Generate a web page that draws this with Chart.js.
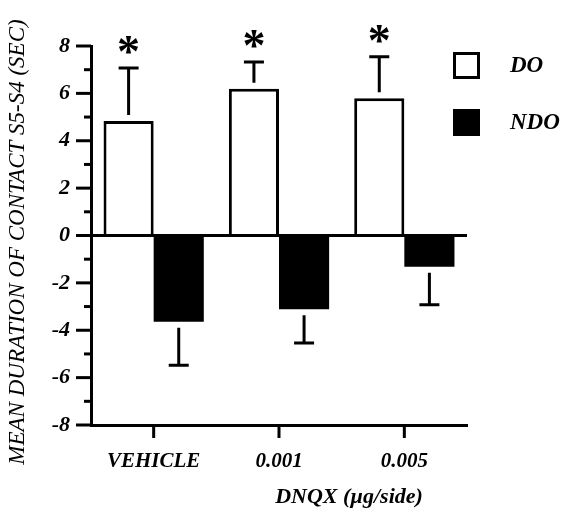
<!DOCTYPE html>
<html>
<head>
<meta charset="utf-8">
<script src="https://cdn.jsdelivr.net/npm/chart.js@4/dist/chart.umd.min.js"></script>
<style>
  html, body { margin: 0; padding: 0; background: #fff; }
  #wrap { width: 570px; height: 514px; position: relative; }
</style>
</head>
<body>
<div id="wrap"><canvas id="c" width="570" height="514"></canvas></div>
<script>
const categories = ['VEHICLE', '0.001', '0.005'];
const seriesNames = ['DO', 'NDO'];
const doValues = [4.83, 6.20, 5.79];
const doErrors = [2.24, 1.12, 1.76];
const ndoValues = [-3.64, -3.11, -1.32];
const ndoErrors = [1.84, 1.43, 1.60];
const significant = ['*', '*', '*'];
const yTicks = [-8, -6, -4, -2, 0, 2, 4, 6, 8];
const yTitle = 'MEAN DURATION OF CONTACT S5-S4 (SEC)';
const xTitle = 'DNQX (\u00b5g/side)';

const SERIF = '"Liberation Serif", "DejaVu Serif", serif';

const errorBarPlugin = {
  id: 'errorBars',
  afterDatasetsDraw(chart) {
    const ctx = chart.ctx;
    const y = chart.scales.y;
    ctx.save();
    ctx.strokeStyle = '#000';
    ctx.lineWidth = 3;
    chart.data.datasets.forEach((ds, di) => {
      const meta = chart.getDatasetMeta(di);
      meta.data.forEach((el, i) => {
        const v = ds.data[i];
        const e = ds.errors[i];
        const dir = v >= 0 ? 1 : -1;
        const yEnd = y.getPixelForValue(v + dir * e);
        const yStart = el.y - dir * 6;
        ctx.beginPath();
        ctx.moveTo(el.x, yStart);
        ctx.lineTo(el.x, yEnd);
        ctx.moveTo(el.x - 10, yEnd);
        ctx.lineTo(el.x + 10, yEnd);
        ctx.stroke();
        if (ds.marks && ds.marks[i]) {
          ctx.font = 'bold 46px ' + SERIF;
          ctx.fillStyle = '#000';
          ctx.textAlign = 'center';
          ctx.textBaseline = 'alphabetic';
          const m = ctx.measureText(ds.marks[i]);
          const cy = yEnd - 23;
          const base = cy + (m.actualBoundingBoxAscent - m.actualBoundingBoxDescent) / 2;
          ctx.fillText(ds.marks[i], el.x, base);
        }
      });
    });
    ctx.restore();
  }
};

const decorPlugin = {
  id: 'decor',
  afterDraw(chart) {
    const ctx = chart.ctx;
    const y = chart.scales.y;
    const x = chart.scales.x;
    const area = chart.chartArea;
    ctx.save();
    ctx.strokeStyle = '#000';
    ctx.lineWidth = 3;
    for (let v = y.min; v <= y.max; v += 1) {
      const py = y.getPixelForValue(v);
      const len = (v % 2 === 0) ? 15 : 7;
      ctx.beginPath();
      ctx.moveTo(area.left - len, py);
      ctx.lineTo(area.left, py);
      ctx.stroke();
    }
    categories.forEach((c, i) => {
      const px = x.getPixelForValue(i);
      ctx.beginPath();
      ctx.moveTo(px, area.bottom);
      ctx.lineTo(px, area.bottom + 13);
      ctx.stroke();
    });
    ctx.fillStyle = '#000';
    ctx.font = 'italic 23px ' + SERIF;
    ctx.textAlign = 'center';
    ctx.textBaseline = 'middle';
    ctx.save();
    ctx.translate(18, 242);
    ctx.rotate(-Math.PI / 2);
    ctx.fillText(yTitle, 0, 0);
    ctx.restore();
    ctx.font = 'bold italic 22px ' + SERIF;
    ctx.fillText(xTitle, 349, 497);
    chart.data.datasets.forEach((ds, di) => {
      const top = di === 0 ? 52 : 109;
      ctx.fillStyle = ds.backgroundColor;
      ctx.fillRect(453, top, 27, 27);
      ctx.lineWidth = 3;
      ctx.strokeStyle = '#000';
      ctx.strokeRect(454.5, top + 1.5, 24, 24);
      ctx.fillStyle = '#000';
      ctx.font = 'bold italic 23px ' + SERIF;
      ctx.textAlign = 'left';
      ctx.textBaseline = 'middle';
      ctx.fillText(ds.label, 510, top + 14);
    });
    ctx.restore();
  }
};

new Chart(document.getElementById('c'), {
  type: 'bar',
  data: {
    labels: categories,
    datasets: [
      {
        label: seriesNames[0],
        data: doValues,
        errors: doErrors,
        marks: significant,
        backgroundColor: '#ffffff',
        borderColor: '#000000',
        borderWidth: 3
      },
      {
        label: seriesNames[1],
        data: ndoValues,
        errors: ndoErrors,
        backgroundColor: '#000000',
        borderColor: '#000000',
        borderWidth: 0
      }
    ]
  },
  options: {
    responsive: false,
    animation: false,
    devicePixelRatio: 1,
    layout: { padding: { left: 0, right: 103, top: 46, bottom: 0 } },
    datasets: { bar: { categoryPercentage: 0.8, barPercentage: 1.0 } },
    plugins: {
      legend: { display: false },
      tooltip: { enabled: false },
      title: { display: false }
    },
    scales: {
      x: {
        type: 'category',
        grid: { display: false, drawTicks: false },
        border: { display: true, color: '#000', width: 3 },
        ticks: {
          color: '#000',
          padding: 24,
          font: { family: SERIF, size: 21, weight: 'bold', style: 'italic' }
        },
        afterFit(s) { s.height = 89; }
      },
      y: {
        min: -8,
        max: 8,
        afterBuildTicks(s) { s.ticks = yTicks.map(v => ({ value: v })); },
        grid: {
          drawTicks: false,
          lineWidth: 3,
          color: (c) => (c.tick && c.tick.value === 0) ? '#000' : 'rgba(0,0,0,0)'
        },
        border: { display: true, color: '#000', width: 3 },
        ticks: {
          color: '#000',
          padding: 21,
          font: { family: SERIF, size: 22, weight: 'bold', style: 'italic' }
        },
        afterFit(s) { s.width = 91; }
      }
    }
  },
  plugins: [errorBarPlugin, decorPlugin]
});
</script>
</body>
</html>
